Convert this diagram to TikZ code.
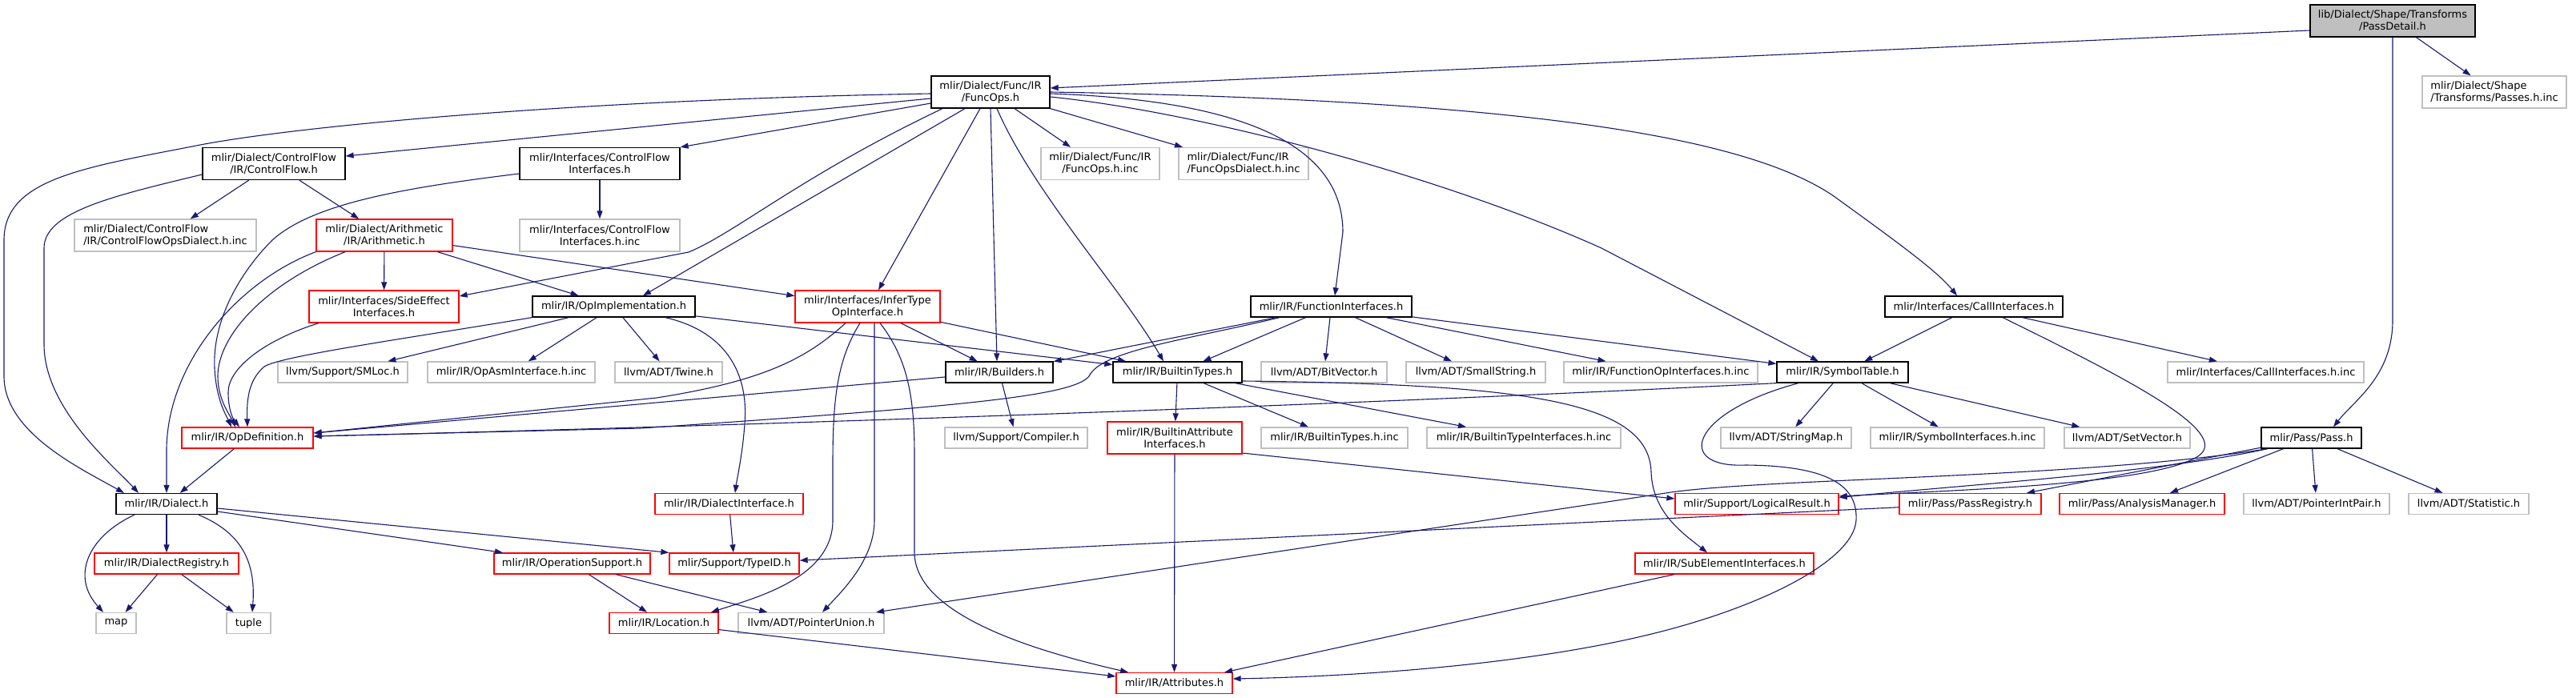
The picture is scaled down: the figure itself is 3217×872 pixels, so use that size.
\documentclass[tikz,border=0pt]{standalone}
\usepackage{fontspec}
\setmainfont{DejaVu Sans}
\usepackage{tikz}
\usetikzlibrary{arrows.meta}
\definecolor{edgeblue}{RGB}{25, 25, 112}
\definecolor{grey75}{RGB}{191, 191, 191}

\begin{document}
\begin{tikzpicture}[
    x=1pt, y=-1pt,
    font=\fontsize{13}{15}\selectfont,
    hfile/.style={rectangle, draw=#1, fill=white, line width=1.3pt, inner sep=3pt,
        minimum height=26pt, align=center},
    hfile/.default=black,
    two/.style={minimum height=40pt},
    dep/.style={draw=edgeblue, line width=1.1pt, -{Triangle[length=10pt, width=7pt]}}
]
    \useasboundingbox[fill=white] (0,0) rectangle (3217,872);

    % Root and first level
    \node[hfile, fill=grey75, two, minimum width=206pt] (pass_detail) at (2988,26) {lib/Dialect/Shape/Transforms\\/PassDetail.h};
    \node[hfile=grey75, two, minimum width=180pt, align=left] (passes_inc) at (3115,115) {mlir/Dialect/Shape\\/Transforms/Passes.h.inc};
    \node[hfile, two, minimum width=148pt] (func_ops) at (1237,115) {mlir/Dialect/Func/IR\\/FuncOps.h};

    % Level 2
    \node[hfile, two, minimum width=178pt] (cf_ops) at (342,204.5) {mlir/Dialect/ControlFlow\\/IR/ControlFlow.h};
    \node[hfile, two, minimum width=200pt] (cf_iface) at (749,204.5) {mlir/Interfaces/ControlFlow\\Interfaces.h};
    \node[hfile=grey75, two, minimum width=148pt] (func_inc) at (1374,204.5) {mlir/Dialect/Func/IR\\/FuncOps.h.inc};
    \node[hfile=grey75, two, minimum width=162pt, align=left] (func_dialect_inc) at (1553,204.5) {mlir/Dialect/Func/IR\\/FuncOpsDialect.h.inc};

    % Level 3
    \node[hfile=grey75, two, minimum width=227pt, align=left] (cf_dialect_inc) at (206.5,294) {mlir/Dialect/ControlFlow\\/IR/ControlFlowOpsDialect.h.inc};
    \node[hfile=red, two, minimum width=170pt] (arith) at (480,294) {mlir/Dialect/Arithmetic\\/IR/Arithmetic.h};
    \node[hfile=grey75, two, minimum width=200pt] (cf_iface_inc) at (749,294) {mlir/Interfaces/ControlFlow\\Interfaces.h.inc};

    % Level 4
    \node[hfile=red, two, minimum width=187pt] (side_effect) at (479.5,383) {mlir/Interfaces/SideEffect\\Interfaces.h};
    \node[hfile, minimum width=203pt] (op_impl) at (766.5,383) {mlir/IR/OpImplementation.h};
    \node[hfile=red, two, minimum width=181pt] (infer_type) at (1083.5,383) {mlir/Interfaces/InferType\\OpInterface.h};
    \node[hfile, minimum width=201pt] (func_iface) at (1662.5,383) {mlir/IR/FunctionInterfaces.h};
    \node[hfile, minimum width=222pt] (call_iface) at (2465,383) {mlir/Interfaces/CallInterfaces.h};

    % Level 5
    \node[hfile=grey75, minimum width=162pt] (smloc) at (428,465) {llvm/Support/SMLoc.h};
    \node[hfile=grey75, minimum width=209pt] (op_asm_inc) at (638.5,465) {mlir/IR/OpAsmInterface.h.inc};
    \node[hfile=grey75, minimum width=134pt] (twine) at (835,465) {llvm/ADT/Twine.h};
    \node[hfile, minimum width=134pt] (builders) at (1248,465) {mlir/IR/Builders.h};
    \node[hfile, minimum width=161pt] (builtin_types) at (1470.5,465) {mlir/IR/BuiltinTypes.h};
    \node[hfile=grey75, minimum width=157pt] (bit_vector) at (1653.5,465) {llvm/ADT/BitVector.h};
    \node[hfile=grey75, minimum width=174pt] (small_string) at (1843,465) {llvm/ADT/SmallString.h};
    \node[hfile=grey75, minimum width=242pt] (func_op_iface_inc) at (2074,465) {mlir/IR/FunctionOpInterfaces.h.inc};
    \node[hfile, minimum width=164pt] (symbol_table) at (2301,465) {mlir/IR/SymbolTable.h};
    \node[hfile=grey75, minimum width=245pt] (call_iface_inc) at (2829.5,465) {mlir/Interfaces/CallInterfaces.h.inc};

    % Level 6
    \node[hfile=red, minimum width=164pt] (op_def) at (309,547) {mlir/IR/OpDefinition.h};
    \node[hfile=grey75, minimum width=178pt] (compiler) at (1269,547) {llvm/Support/Compiler.h};
    \node[hfile=red, two, minimum width=168pt] (builtin_attr_iface) at (1467,547) {mlir/IR/BuiltinAttribute\\Interfaces.h};
    \node[hfile=grey75, minimum width=183pt] (builtin_types_inc) at (1666.5,547) {mlir/IR/BuiltinTypes.h.inc};
    \node[hfile=grey75, minimum width=242pt] (builtin_type_iface_inc) at (1903,547) {mlir/IR/BuiltinTypeInterfaces.h.inc};
    \node[hfile=grey75, minimum width=163pt] (string_map) at (2230.5,547) {llvm/ADT/StringMap.h};
    \node[hfile=grey75, minimum width=217pt] (symbol_iface_inc) at (2444.5,547) {mlir/IR/SymbolInterfaces.h.inc};
    \node[hfile=grey75, minimum width=157pt] (set_vector) at (2656.5,547) {llvm/ADT/SetVector.h};
    \node[hfile, minimum width=125pt] (pass) at (2886.5,547) {mlir/Pass/Pass.h};

    % Level 7
    \node[hfile, minimum width=126pt] (dialect) at (208,629.5) {mlir/IR/Dialect.h};
    \node[hfile=red, minimum width=185pt] (dialect_iface) at (910.5,629.5) {mlir/IR/DialectInterface.h};
    \node[hfile=red, minimum width=204pt] (logical_result) at (2194,629.5) {mlir/Support/LogicalResult.h};
    \node[hfile=red, minimum width=177pt] (pass_registry) at (2460.5,629.5) {mlir/Pass/PassRegistry.h};
    \node[hfile=red, minimum width=206pt] (analysis_mgr) at (2675,629.5) {mlir/Pass/AnalysisManager.h};
    \node[hfile=grey75, minimum width=182pt] (ptr_int_pair) at (2893,629.5) {llvm/ADT/PointerIntPair.h};
    \node[hfile=grey75, minimum width=150pt] (statistic) at (3083,629.5) {llvm/ADT/Statistic.h};

    % Level 8
    \node[hfile=red, minimum width=180pt] (dialect_registry) at (208,704) {mlir/IR/DialectRegistry.h};
    \node[hfile=red, minimum width=195pt] (op_support) at (714.5,704) {mlir/IR/OperationSupport.h};
    \node[hfile=red, minimum width=162pt] (type_id) at (917,704) {mlir/Support/TypeID.h};
    \node[hfile=red, minimum width=223pt] (sub_element) at (2153.5,704) {mlir/IR/SubElementInterfaces.h};

    % Level 9 and 10
    \node[hfile=grey75, minimum width=50pt] (map) at (145,778.5) {map};
    \node[hfile=grey75, minimum width=55pt] (tuple) at (310.5,778.5) {tuple};
    \node[hfile=red, minimum width=136pt] (location) at (829,778.5) {mlir/IR/Location.h};
    \node[hfile=grey75, minimum width=182pt] (ptr_union) at (1013,778.5) {llvm/ADT/PointerUnion.h};
    \node[hfile=red, minimum width=145pt] (attributes) at (1466.5,853.5) {mlir/IR/Attributes.h};

    % PassDetail.h includes
    \draw[dep] ([yshift=-12pt]pass_detail.west) -- ([yshift=5pt]func_ops.east);
    \draw[dep] (pass_detail) -- (passes_inc);
    \draw[dep] (pass_detail.south) -- (2988,400) .. controls (2988,470) and (2940,500) .. ([xshift=27.5pt]pass.north);

    % FuncOps.h includes
    \draw[dep] ([yshift=-2pt]func_ops.west) .. controls (700,125) and (350,160) .. (240,183) .. controls (100,210) and (5,225) .. (5,300) -- (5,470) .. controls (5,540) and (100,585) .. ([xshift=-53pt]dialect.north);
    \draw[dep] ([yshift=-8pt]func_ops.west) -- ([yshift=9.5pt]cf_ops.east);
    \draw[dep] ([yshift=-14pt]func_ops.west) -- (cf_iface.north east);
    \draw[dep] ([xshift=-60pt]func_ops.south) .. controls (1000,220) and (920,290) .. (860,315) -- ([yshift=13pt]side_effect.east);
    \draw[dep] ([xshift=-32pt]func_ops.south) -- ([xshift=36.5pt]op_impl.north);
    \draw[dep] ([xshift=-13pt]func_ops.south) -- ([xshift=13.5pt]infer_type.north);
    \draw[dep] (func_ops.south) -- ([xshift=-3pt]builders.north);
    \draw[dep] ([xshift=8pt]func_ops.south) .. controls (1290,240) and (1400,360) .. ([xshift=-17.5pt]builtin_types.north);
    \draw[dep] ([xshift=30pt]func_ops.south) -- ([xshift=-37pt]func_inc.north);
    \draw[dep] (func_ops.south east) -- ([xshift=-76pt]func_dialect_inc.north);
    \draw[dep] ([yshift=-2pt]func_ops.east) .. controls (1550,125) and (1677,180) .. (1677,290) -- ([xshift=4.5pt]func_iface.north);
    \draw[dep] ([yshift=-6pt]func_ops.east) .. controls (1500,140) and (1800,220) .. (2000,310) -- ([xshift=-30pt]symbol_table.north);
    \draw[dep] (func_ops.east) .. controls (1900,125) and (2180,170) .. (2290,245) .. controls (2380,310) and (2420,340) .. ([xshift=-21pt]call_iface.north);

    % ControlFlow.h and ControlFlowInterfaces.h
    \draw[dep] (cf_ops) -- (cf_dialect_inc);
    \draw[dep] (cf_ops) -- (arith);
    \draw[dep] ([yshift=-13.5pt]cf_ops.west) .. controls (140,245) and (55,265) .. (55,310) -- (55,430) .. controls (55,510) and (140,580) .. ([xshift=-35pt]dialect.north);
    \draw[dep] (cf_iface) -- (cf_iface_inc);
    \draw[dep] ([yshift=-12.5pt]cf_iface.west) .. controls (500,235) and (390,255) .. (340,300) .. controls (300,340) and (265,400) .. (268,460) .. controls (270,500) and (283,520) .. ([xshift=-20pt]op_def.north);

    % Arithmetic.h
    \draw[dep] (arith) -- (side_effect);
    \draw[dep] (arith) -- (op_impl);
    \draw[dep] (arith) -- (infer_type);
    \draw[dep] (arith.south west) .. controls (300,350) and (210,450) .. (208,560) -- (dialect.north);
    \draw[dep] ([xshift=-49pt]arith.south) .. controls (330,355) and (272,420) .. (272,470) .. controls (272,500) and (288,520) .. ([xshift=-15pt]op_def.north);

    % SideEffectInterfaces.h and OpImplementation.h
    \draw[dep] ([xshift=-81.5pt]side_effect.south) .. controls (330,425) and (285,460) .. (285,490) .. controls (285,510) and (290,522) .. ([xshift=-10pt]op_def.north);
    \draw[dep] (op_impl.south west) .. controls (500,424) and (350,445) .. (330,458) .. controls (310,475) and (308,500) .. (op_def.north);
    \draw[dep] (op_impl) -- (smloc);
    \draw[dep] (op_impl) -- (op_asm_inc);
    \draw[dep] (op_impl) -- (twine);
    \draw[dep] (op_impl) -- (builtin_types);
    \draw[dep] ([xshift=64.5pt]op_impl.south) .. controls (910,415) and (935,470) .. (930,530) .. controls (927,570) and (920,600) .. ([xshift=7.5pt]dialect_iface.north);

    % InferTypeOpInterface.h
    \draw[dep] ([xshift=-27.5pt]infer_type.south) .. controls (1010,445) and (960,475) .. (820,497) -- ([yshift=6pt]op_def.east);
    \draw[dep] (infer_type) -- (builders);
    \draw[dep] (infer_type) -- (builtin_types);
    \draw[dep] ([xshift=-9.5pt]infer_type.south) .. controls (1045,450) and (1040,500) .. (1040,580) -- (1040,650) .. controls (1040,720) and (950,745) .. ([xshift=59pt]location.north);
    \draw[dep] ([xshift=8.5pt]infer_type.south) -- (1092,650) .. controls (1092,700) and (1050,740) .. ([xshift=14pt]ptr_union.north);
    \draw[dep] ([xshift=15.5pt]infer_type.south) .. controls (1135,450) and (1142,500) .. (1142,570) -- (1142,690) .. controls (1142,770) and (1300,815) .. ([xshift=-57.5pt]attributes.north);

    % Builders.h and BuiltinTypes.h
    \draw[dep] (builders) -- ([yshift=6pt]op_def.east);
    \draw[dep] (builders) -- (compiler);
    \draw[dep] (builtin_types) -- (builtin_attr_iface);
    \draw[dep] (builtin_types) -- (builtin_types_inc);
    \draw[dep] (builtin_types) -- (builtin_type_iface_inc);
    \draw[dep] ([yshift=-11pt]builtin_types.east) .. controls (1900,480) and (2060,500) .. (2062,590) .. controls (2064,640) and (2100,665) .. ([xshift=-21.5pt]sub_element.north);
    \draw[dep] (builtin_attr_iface) -- (attributes);
    \draw[dep] ([yshift=-19pt]builtin_attr_iface.east) -- ([yshift=6.5pt]logical_result.west);

    % FunctionInterfaces.h
    \draw[dep] (func_iface) -- (builders);
    \draw[dep] (func_iface) -- (builtin_types);
    \draw[dep] ([xshift=-64.5pt]func_iface.south) .. controls (1480,425) and (1375,438) .. (1360,470) .. controls (1340,495) and (1200,508) .. (800,535) -- ([yshift=2pt]op_def.east);
    \draw[dep] (func_iface) -- (bit_vector);
    \draw[dep] (func_iface) -- (small_string);
    \draw[dep] (func_iface) -- (func_op_iface_inc);
    \draw[dep] (func_iface) -- (symbol_table);

    % SymbolTable.h
    \draw[dep] (symbol_table.south west) .. controls (1700,505) and (1000,530) .. ([yshift=2pt]op_def.east);
    \draw[dep] (symbol_table) -- (string_map);
    \draw[dep] (symbol_table) -- (symbol_iface_inc);
    \draw[dep] (symbol_table) -- (set_vector);
    \draw[dep] ([xshift=-55pt]symbol_table.south) .. controls (2110,515) and (2090,585) .. (2180,581) .. controls (2290,582) and (2320,610) .. (2318,650) .. controls (2315,700) and (2200,760) .. (2050,795) .. controls (1900,830) and (1700,845) .. ([yshift=5.5pt]attributes.east);

    % CallInterfaces.h
    \draw[dep] (call_iface) -- (symbol_table);
    \draw[dep] (call_iface) -- (call_iface_inc);
    \draw[dep] ([xshift=36pt]call_iface.south) .. controls (2650,470) and (2790,540) .. (2745,570) .. controls (2690,605) and (2450,612) .. ([yshift=9.5pt]logical_result.east);

    % Pass.h
    \draw[dep] ([xshift=-55pt]pass.south) .. controls (2700,590) and (2450,606) .. ([yshift=8pt]logical_result.east);
    \draw[dep] ([xshift=-55pt]pass.south) .. controls (2600,598) and (2200,597) .. (2080,616) -- ([xshift=81pt]ptr_union.north);
    \draw[dep] (pass) -- (pass_registry);
    \draw[dep] (pass) -- (analysis_mgr);
    \draw[dep] (pass) -- (ptr_int_pair);
    \draw[dep] (pass) -- (statistic);
    \draw[dep] (pass_registry) -- (type_id);

    % Dialect.h and below
    \draw[dep] (op_def) -- (dialect);
    \draw[dep] (dialect) -- (dialect_registry);
    \draw[dep] ([xshift=-40pt]dialect.south) .. controls (110,670) and (88,720) .. ([xshift=-16pt]map.north);
    \draw[dep] ([xshift=40pt]dialect.south) .. controls (300,665) and (320,700) .. ([xshift=4.5pt]tuple.north);
    \draw[dep] ([yshift=-9.5pt]dialect.east) -- ([xshift=-86.5pt]op_support.north);
    \draw[dep] ([yshift=-5.5pt]dialect.east) -- (type_id.north west);
    \draw[dep] (dialect_registry) -- (map);
    \draw[dep] (dialect_registry) -- (tuple);
    \draw[dep] (dialect_iface) -- (type_id);
    \draw[dep] (op_support) -- (location);
    \draw[dep] (op_support) -- (ptr_union);
    \draw[dep] (location) -- (attributes);
    \draw[dep] (sub_element) -- (attributes);

\end{tikzpicture}
\end{document}
